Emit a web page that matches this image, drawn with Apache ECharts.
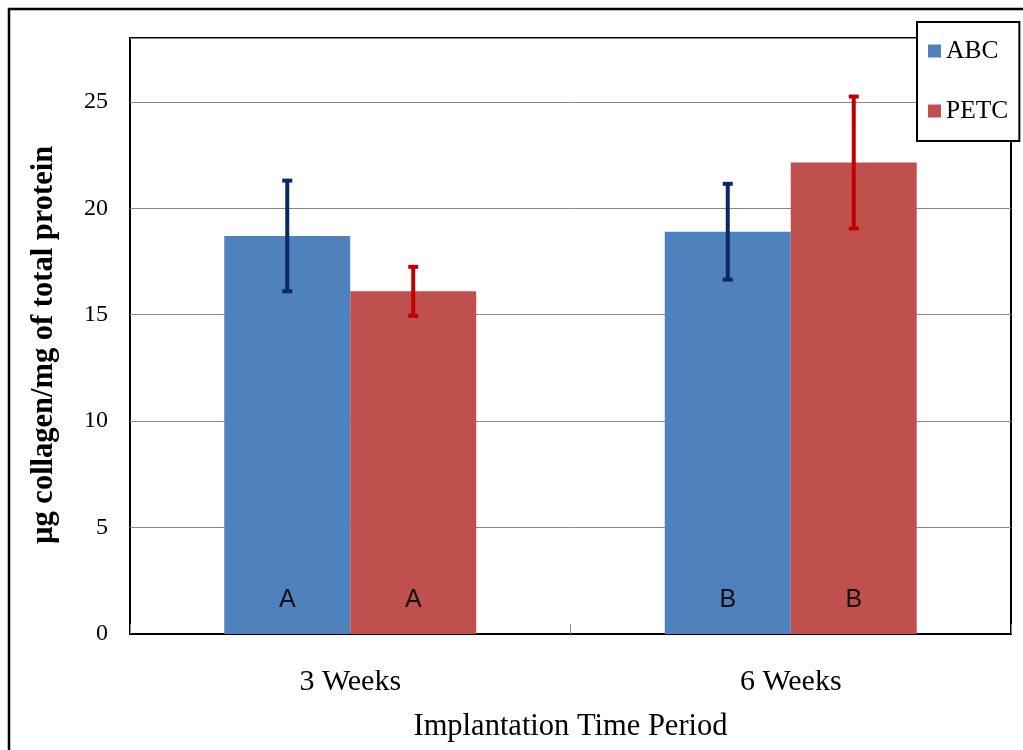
<!DOCTYPE html>
<html>
<head>
<meta charset="utf-8">
<script src="https://cdn.jsdelivr.net/npm/echarts@6/dist/echarts.min.js"></script>
<style>html,body{margin:0;padding:0;background:#fff}#c{width:1023px;height:750px}</style>
</head>
<body>
<div id="c"></div>
<script>
const categories = ['3 Weeks', '6 Weeks'];
const abcMean = [18.7, 18.9];
const abcErr = [2.6, 2.25];
const petcMean = [16.1, 22.15];
const petcErr = [1.15, 3.1];
const abcLetters = ['A', 'B'];
const petcLetters = ['A', 'B'];
const yTicks = [0, 5, 10, 15, 20, 25];

const SERIF = "'Liberation Serif','Times New Roman',serif";
const GAP = 0.428;

function errRender(side, color) {
  return function (params, api) {
    const i = api.value(0), m = api.value(1), e = api.value(2);
    const band = api.size([1, 0])[0];
    const bw = band * (1 - GAP) / 2;
    const cx = api.coord([i, m])[0] + side * bw / 2;
    const top = api.coord([i, m + e])[1];
    const bot = api.coord([i, m - e])[1];
    const st = { stroke: color, lineWidth: 4 };
    return {
      type: 'group',
      children: [
        { type: 'line', shape: { x1: cx, y1: top, x2: cx, y2: bot }, style: st },
        { type: 'line', shape: { x1: cx - 5, y1: top, x2: cx + 5, y2: top }, style: st },
        { type: 'line', shape: { x1: cx - 5, y1: bot, x2: cx + 5, y2: bot }, style: st }
      ]
    };
  };
}

const chart = echarts.init(document.getElementById('c'), null, { renderer: 'canvas' });
chart.setOption({
  animation: false,
  backgroundColor: '#fff',
  graphic: [{
    type: 'rect', z: 100, silent: true,
    shape: { x: 9, y: 9, width: 1100, height: 800 },
    style: { fill: 'none', stroke: '#000', lineWidth: 2.5 }
  }],
  grid: { left: 130, top: 38, right: 12, bottom: 116, show: true, borderColor: '#000', borderWidth: 2, backgroundColor: 'transparent' },
  legend: {
    orient: 'vertical', left: 917, top: 22,
    data: ['ABC', 'PETC'],
    backgroundColor: '#fff', borderColor: '#000', borderWidth: 2,
    padding: [16, 11, 17, 11], itemGap: 34, itemWidth: 13, itemHeight: 13,
    textStyle: { fontFamily: SERIF, fontSize: 25.5, color: '#000', padding: [0, 0, 0, 0] },
    icon: 'rect', z: 20
  },
  xAxis: {
    type: 'category', data: categories,
    axisLine: { lineStyle: { color: '#000', width: 2 } },
    axisTick: { show: true, inside: true, length: 10, lineStyle: { color: '#888' } },
    axisLabel: { fontFamily: SERIF, fontSize: 30, color: '#000', margin: 33 },
    name: 'Implantation Time Period', nameLocation: 'middle', nameGap: 77,
    nameTextStyle: { fontFamily: SERIF, fontSize: 30.5, color: '#000' }
  },
  yAxis: {
    type: 'value', min: 0, max: 28, interval: 5,
    axisLine: { show: false }, axisTick: { show: false },
    axisLabel: {
      fontFamily: SERIF, fontSize: 24, color: '#000', margin: 22,
      formatter: v => (yTicks.indexOf(v) >= 0 ? String(v) : '')
    },
    splitLine: { lineStyle: { color: '#888', width: 1 } },
    name: 'µg collagen/mg of total protein', nameLocation: 'middle', nameGap: 70, nameRotate: 90,
    nameTextStyle: { fontFamily: SERIF, fontSize: 30.5, fontWeight: 'bold', color: '#000', padding: [0, 18, 0, 0] }
  },
  series: [
    {
      name: 'ABC', type: 'bar', data: abcMean, barGap: '0%', barCategoryGap: (GAP * 100) + '%',
      itemStyle: { color: '#4f81bd' },
      label: { show: true, position: 'insideBottom', distance: 21, fontFamily: "'Liberation Sans',Arial,sans-serif", fontSize: 25, color: '#111', formatter: p => abcLetters[p.dataIndex] }
    },
    {
      name: 'PETC', type: 'bar', data: petcMean,
      itemStyle: { color: '#c0504d' },
      label: { show: true, position: 'insideBottom', distance: 21, fontFamily: "'Liberation Sans',Arial,sans-serif", fontSize: 25, color: '#111', formatter: p => petcLetters[p.dataIndex] }
    },
    {
      type: 'custom', name: 'abcErr', z: 5, silent: true,
      renderItem: errRender(-1, '#0a2766'),
      encode: { x: 0, y: 1 },
      data: abcMean.map((m, i) => [i, m, abcErr[i]])
    },
    {
      type: 'custom', name: 'petcErr', z: 5, silent: true,
      renderItem: errRender(1, '#c00000'),
      encode: { x: 0, y: 1 },
      data: petcMean.map((m, i) => [i, m, petcErr[i]])
    }
  ]
});
</script>
</body>
</html>
